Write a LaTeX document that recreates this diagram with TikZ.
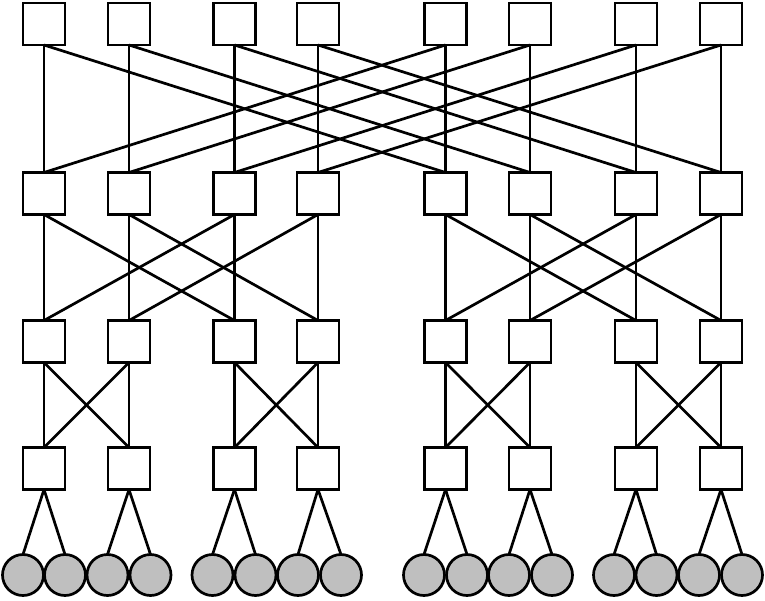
\documentclass[tikz,border=0pt]{standalone}
\begin{document}
\begin{tikzpicture}[x=1pt,y=-1pt,
  sw/.style={draw=black,fill=white,line width=2.7pt,minimum size=42pt,inner sep=0pt,outer sep=0pt},
  host/.style={circle,draw=black,fill=hostgray,line width=2.7pt,minimum size=41pt,inner sep=0pt,outer sep=0pt},
  link/.style={draw=black,line width=2.7pt}]
\definecolor{hostgray}{RGB}{191,191,191}
\useasboundingbox (0,0) rectangle (765,600);
% columns
\def\colx{{44,129,234.5,318,445.5,530,636,721}}
\def\rowy{{24,193.5,341.5,468.5}}
\foreach \r in {1,...,4}{
  \foreach \c in {1,...,8}{
    \pgfmathsetmacro{\xx}{\colx[\c-1]}
    \pgfmathsetmacro{\yy}{\rowy[\r-1]}
    \node[sw] (s\r-\c) at (\xx,\yy) {};
  }
}
\foreach \h/\xx in {1/23,2/65,3/107.5,4/150.5,5/212.5,6/255.5,7/298,8/341,9/424,10/467,11/509,12/552,13/614,14/656.5,15/699,16/742}{
  \node[host] (h\h) at (\xx,575) {};
}
% row 1 -> row 2
\foreach \c in {1,...,8}{
  \pgfmathtruncatemacro{\p}{mod(\c+3,8)+1}
  \draw[link] (s1-\c.south) -- (s2-\c.north);
  \draw[link] (s1-\c.south) -- (s2-\p.north);
}
% row 2 -> row 3
\foreach \c/\p in {1/3,2/4,3/1,4/2,5/7,6/8,7/5,8/6}{
  \draw[link] (s2-\c.south) -- (s3-\c.north);
  \draw[link] (s2-\c.south) -- (s3-\p.north);
}
% row 3 -> row 4
\foreach \c/\p in {1/2,2/1,3/4,4/3,5/6,6/5,7/8,8/7}{
  \draw[link] (s3-\c.south) -- (s4-\c.north);
  \draw[link] (s3-\c.south) -- (s4-\p.north);
}
% row 4 -> hosts
\foreach \c in {1,...,8}{
  \pgfmathtruncatemacro{\a}{2*\c-1}
  \pgfmathtruncatemacro{\b}{2*\c}
  \draw[link] (s4-\c.south) -- (h\a.north);
  \draw[link] (s4-\c.south) -- (h\b.north);
}
\end{tikzpicture}
\end{document}
